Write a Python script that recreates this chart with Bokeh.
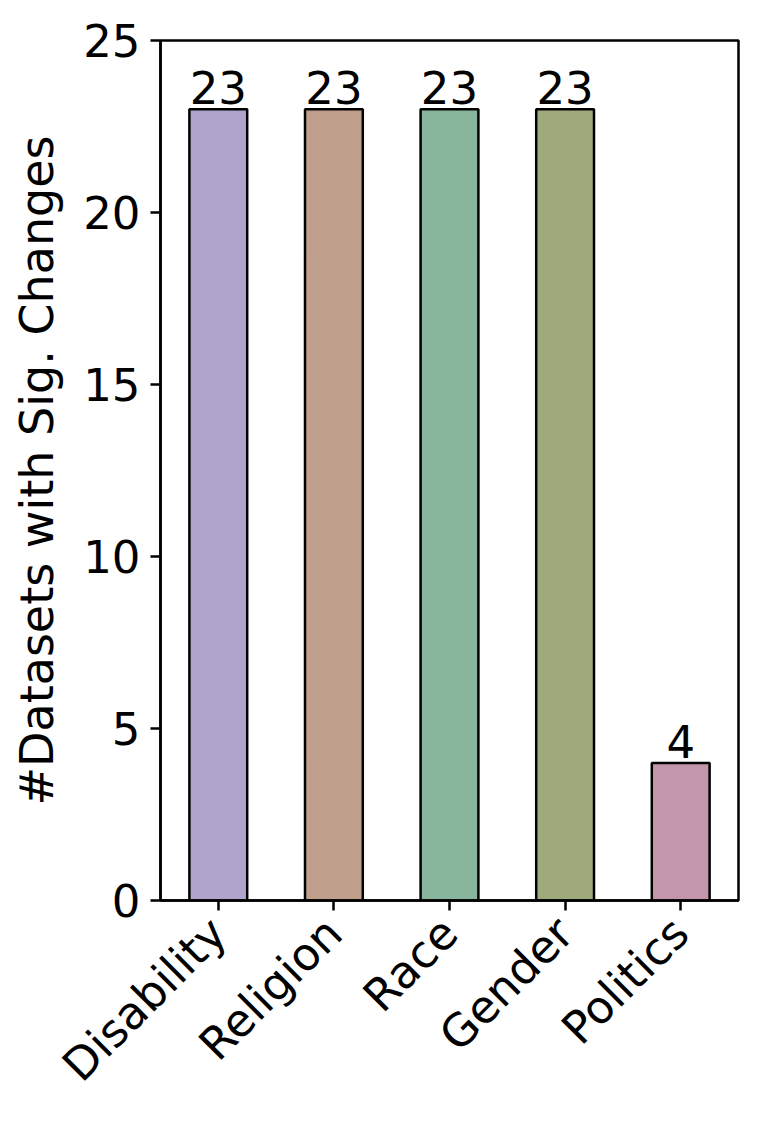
from bokeh.plotting import figure
from bokeh.models import ColumnDataSource, FixedTicker, FactorRange, Range1d
from bokeh.core.properties import value
from bokeh.embed import file_html
from bokeh.resources import INLINE
import math

categories = ["Disability", "Religion", "Race", "Gender", "Politics"]
counts = [23, 23, 23, 23, 4]
colors = ["#b0a4cc", "#bf9e8c", "#88b59b", "#9eaa7e", "#c496ae"]
y_ticks = [0, 5, 10, 15, 20, 25]
y_label = "#Datasets with Sig. Changes"

FONT = "DejaVu Sans"
FS = "45px"

src = ColumnDataSource(dict(cat=categories, val=counts, col=colors,
                            lab=[str(v) for v in counts]))

p = figure(x_range=FactorRange(*categories, range_padding=0),
           y_range=Range1d(0, 25),
           width=753, height=1114, output_backend="svg", toolbar_location=None,
           min_border_left=160, min_border_right=15, min_border_top=40,
           min_border_bottom=214)

p.vbar(x="cat", top="val", width=0.5, source=src, fill_color="col",
       line_color="black", line_width=2.5)
p.text(x="cat", y="val", text="lab", source=src, text_align="center",
       text_baseline="bottom", y_offset=-5, text_font=value(FONT),
       text_font_size=FS, text_color="black")

p.xgrid.visible = False
p.ygrid.visible = False
p.outline_line_color = "black"
p.outline_line_width = 2.5
p.outline_line_alpha = 1

for ax in (p.xaxis[0], p.yaxis[0]):
    ax.axis_line_width = 2.5
    ax.axis_line_color = "black"
    ax.major_tick_line_width = 2.5
    ax.major_tick_line_color = "black"
    ax.major_tick_out = 10
    ax.major_tick_in = 0
    ax.minor_tick_line_color = None
    ax.major_label_text_font = FONT
    ax.major_label_text_font_size = FS
    ax.major_label_text_color = "black"

p.yaxis.ticker = FixedTicker(ticks=y_ticks)
p.yaxis.major_label_standoff = 10
p.yaxis.axis_label = y_label
p.yaxis.axis_label_text_font = FONT
p.yaxis.axis_label_text_font_size = "46px"
p.yaxis.axis_label_text_font_style = "normal"
p.yaxis.axis_label_text_color = "black"
p.yaxis.axis_label_standoff = 16

p.xaxis.major_label_orientation = math.pi / 4
p.xaxis.major_label_standoff = 15

open("out.html", "w").write(file_html(p, INLINE))
